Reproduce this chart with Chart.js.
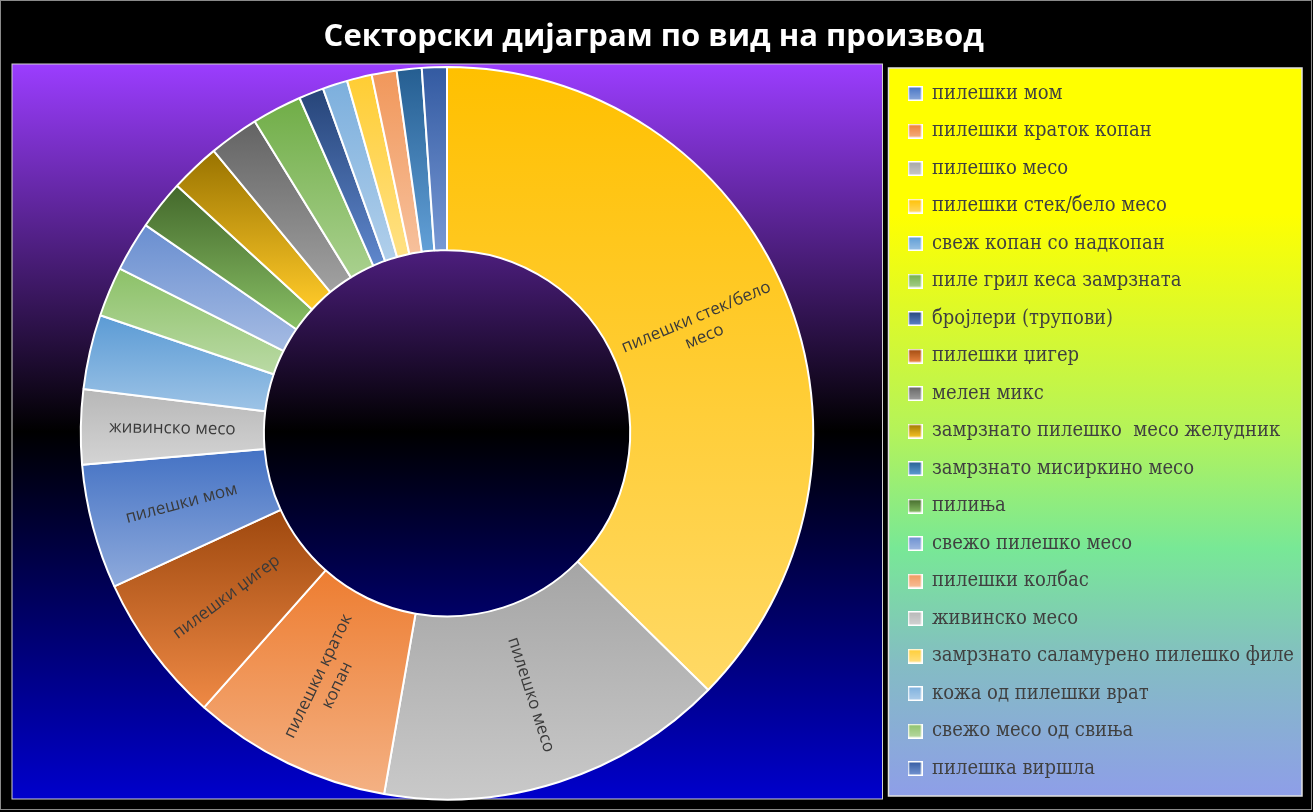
<!DOCTYPE html>
<html>
<head>
<meta charset="utf-8">
<title>Секторски дијаграм по вид на производ</title>
<script src="https://cdn.jsdelivr.net/npm/chart.js@4.4.1/dist/chart.umd.min.js"></script>
<style>
  html, body { margin: 0; padding: 0; background: #000; }
  canvas { display: block; }
</style>
</head>
<body>
<canvas id="chart" width="1313" height="812"></canvas>
<script>
// DONUT: products by type

const TITLE = "Секторски дијаграм по вид на производ";

// slices, clockwise from 12 o'clock
const products = [
  "пилешки стек/бело месо",
  "пилешко месо",
  "пилешки краток копан",
  "пилешки џигер",
  "пилешки мом",
  "живинско месо",
  "свеж копан со надкопан",
  "свежо месо од свиња",
  "свежо пилешко месо",
  "пилиња",
  "замрзнато пилешко  месо желудник",
  "мелен микс",
  "пиле грил кеса замрзната",
  "бројлери (трупови)",
  "кожа од пилешки врат",
  "замрзнато саламурено пилешко филе",
  "пилешки колбас",
  "замрзнато мисиркино месо",
  "пилешка виршла",
];

const counts = [34, 14, 8, 6, 5, 3, 3, 2, 2, 2, 2, 2, 2, 1, 1, 1, 1, 1, 1];

const colors = [
  "#FFC000", "#A5A5A5", "#ED7D31", "#9E480E", "#4472C4", "#B7B7B7",
  "#5B9BD5", "#8CC168", "#698ED0", "#43682B", "#997300", "#636363",
  "#70AD47", "#264478", "#7CAFDD", "#FFCD33", "#F1975A", "#255E91", "#335AA1",
];

// order the legend lists them in
const legendOrder = [
  "пилешки мом",
  "пилешки краток копан",
  "пилешко месо",
  "пилешки стек/бело месо",
  "свеж копан со надкопан",
  "пиле грил кеса замрзната",
  "бројлери (трупови)",
  "пилешки џигер",
  "мелен микс",
  "замрзнато пилешко  месо желудник",
  "замрзнато мисиркино месо",
  "пилиња",
  "свежо пилешко месо",
  "пилешки колбас",
  "живинско месо",
  "замрзнато саламурено пилешко филе",
  "кожа од пилешки врат",
  "свежо месо од свиња",
  "пилешка виршла",
];

// text written inside the biggest slices (same index as products)
const sliceLabels = [
  ["пилешки стек/бело", "месо"],
  ["пилешко месо"],
  ["пилешки краток", "копан"],
  ["пилешки џигер"],
  ["пилешки мом"],
  ["живинско месо"],
];

const LEGEND_FONT = { family: '"DejaVu Serif Condensed", "DejaVu Serif", serif', size: 20 };
const LEGEND_PAD = 17.5;
const LEGEND_BOX_X = 908;

function lighten(hex, amt) {
  const n = parseInt(hex.slice(1), 16);
  const r = ((n >> 16) & 255) / 255, g = ((n >> 8) & 255) / 255, b = (n & 255) / 255;
  const max = Math.max(r, g, b), min = Math.min(r, g, b);
  let h = 0, s = 0, l = (max + min) / 2;
  if (max !== min) {
    const d = max - min;
    s = l > 0.5 ? d / (2 - max - min) : d / (max + min);
    if (max === r) h = (g - b) / d + (g < b ? 6 : 0);
    else if (max === g) h = (b - r) / d + 2;
    else h = (r - g) / d + 4;
    h /= 6;
  }
  l = l + (1 - l) * amt;
  return `hsl(${h * 360}, ${s * 100}%, ${l * 100}%)`;
}

// small shaded square with white edge for the legend
function markerImage(hex) {
  const c = document.createElement("canvas");
  c.width = 15;
  c.height = 15;
  const x = c.getContext("2d");
  const g = x.createLinearGradient(0, 0, 0, 15);
  g.addColorStop(0, hex);
  g.addColorStop(1, lighten(hex, 0.4));
  x.fillStyle = "#ffffff";
  x.fillRect(0, 0, 15, 15);
  x.fillStyle = g;
  x.fillRect(1.5, 1.5, 12, 12);
  return c;
}

// backgrounds: plot panel + legend panel
const panels = {
  id: "panels",
  beforeDraw(chart) {
    const { ctx, chartArea, legend } = chart;
    ctx.save();
    ctx.fillStyle = "#000";
    ctx.fillRect(0, 0, chart.width, chart.height);

    const pl = 12, pr = legend.left - 8;
    const pt = chartArea.top - 2, pb = chartArea.bottom - 1.5;
    let g = ctx.createLinearGradient(0, pt, 0, pb);
    g.addColorStop(0, "#9b3dff");
    g.addColorStop(0.5, "#000000");
    g.addColorStop(1, "#0000cc");
    ctx.fillStyle = g;
    ctx.fillRect(pl, pt, pr - pl, pb - pt);
    ctx.strokeStyle = "#d0d0d0";
    ctx.lineWidth = 1;
    ctx.strokeRect(pl, pt, pr - pl, pb - pt);

    const ll = legend.left - 2, lr = chart.width - 11;
    const lt = chartArea.top + 2, lb = chartArea.bottom - 4.5;
    g = ctx.createLinearGradient(0, lt, 0, lb);
    g.addColorStop(0, "#ffff00");
    g.addColorStop(0.2, "#ffff00");
    g.addColorStop(0.5, "#b4f35a");
    g.addColorStop(0.66, "#78e896");
    g.addColorStop(0.82, "#84bcc4");
    g.addColorStop(1, "#8e9ee8");
    ctx.fillStyle = g;
    ctx.fillRect(ll, lt, lr - ll, lb - lt);
    ctx.strokeStyle = "#e0e0e0";
    ctx.lineWidth = 1.5;
    ctx.strokeRect(ll, lt, lr - ll, lb - lt);

    ctx.strokeStyle = "#8a8a8a";
    ctx.lineWidth = 1;
    ctx.strokeRect(0.5, 0.5, chart.width - 2, chart.height - 3);
    ctx.restore();
  },
};

// vertical shade inside each slice
const sliceShade = {
  id: "sliceShade",
  beforeDatasetsDraw(chart) {
    const ctx = chart.ctx;
    chart.getDatasetMeta(0).data.forEach((arc, i) => {
      const p = arc.getProps(["x", "y", "startAngle", "endAngle", "innerRadius", "outerRadius"]);
      let top = Infinity, bottom = -Infinity;
      for (let k = 0; k <= 60; k++) {
        const a = p.startAngle + ((p.endAngle - p.startAngle) * k) / 60;
        [p.innerRadius, p.outerRadius].forEach((r) => {
          const y = p.y + Math.sin(a) * r;
          top = Math.min(top, y);
          bottom = Math.max(bottom, y);
        });
      }
      const g = ctx.createLinearGradient(0, top, 0, bottom);
      g.addColorStop(0, colors[i]);
      g.addColorStop(1, lighten(colors[i], 0.4));
      arc.options.backgroundColor = g;
    });
  },
};

// radial text in the big slices
const sliceText = {
  id: "sliceText",
  afterDatasetsDraw(chart) {
    const ctx = chart.ctx;
    ctx.save();
    ctx.font = '17px "Open Sans", sans-serif';
    ctx.fillStyle = "#3a3a3a";
    ctx.textAlign = "center";
    ctx.textBaseline = "middle";
    chart.getDatasetMeta(0).data.forEach((arc, i) => {
      const lines = sliceLabels[i];
      if (!lines) return;
      const p = arc.getProps(["x", "y", "startAngle", "endAngle", "innerRadius", "outerRadius"]);
      const mid = (p.startAngle + p.endAngle) / 2;
      const r = (p.innerRadius + p.outerRadius) / 2;
      let rot = mid;
      while (rot > Math.PI / 2) rot -= Math.PI;
      while (rot < -Math.PI / 2) rot += Math.PI;
      ctx.save();
      ctx.translate(p.x + Math.cos(mid) * r, p.y + Math.sin(mid) * r);
      ctx.rotate(rot);
      const lh = 21;
      lines.forEach((t, j) => {
        ctx.fillText(t, 0, (j - (lines.length - 1) / 2) * lh);
      });
      ctx.restore();
    });
    ctx.restore();
  },
};

// legend width -> right padding, so the legend starts where the panel does
const measure = document.createElement("canvas").getContext("2d");
measure.font = `${LEGEND_FONT.size}px ${LEGEND_FONT.family}`;
const longest = Math.max(...products.map((t) => measure.measureText(t).width));
const legendWidth = LEGEND_PAD + 14 + LEGEND_FONT.size / 2 + longest + 10;
const padRight = Math.max(0, 1313 - (LEGEND_BOX_X - LEGEND_PAD) - legendWidth);

const markers = colors.map(markerImage);

new Chart(document.getElementById("chart"), {
  type: "doughnut",
  data: {
    labels: products,
    datasets: [
      {
        data: counts,
        backgroundColor: colors,
        borderColor: "#ffffff",
        borderWidth: 2,
      },
    ],
  },
  options: {
    responsive: false,
    animation: false,
    cutout: "50%",
    layout: {
      padding: { left: LEGEND_PAD - 14, right: padRight, top: 0, bottom: 11.5 },
    },
    plugins: {
      title: {
        display: true,
        text: TITLE,
        color: "#ffffff",
        font: { family: '"Open Sans", sans-serif', size: 31, weight: "bold", lineHeight: 1.2 },
        padding: { top: 19, bottom: 9.8 },
      },
      legend: {
        position: "right",
        align: "start",
        fullSize: false,
        labels: {
          font: LEGEND_FONT,
          color: "#404040",
          boxWidth: 14,
          boxHeight: 14,
          padding: LEGEND_PAD,
          usePointStyle: true,
          generateLabels(chart) {
            const items = Chart.overrides.doughnut.plugins.legend.labels.generateLabels(chart);
            items.forEach((it) => {
              it.pointStyle = markers[it.index];
            });
            return items;
          },
          sort: (a, b) => legendOrder.indexOf(a.text) - legendOrder.indexOf(b.text),
        },
      },
      tooltip: { enabled: false },
    },
  },
  plugins: [panels, sliceShade, sliceText],
});
</script>
</body>
</html>
